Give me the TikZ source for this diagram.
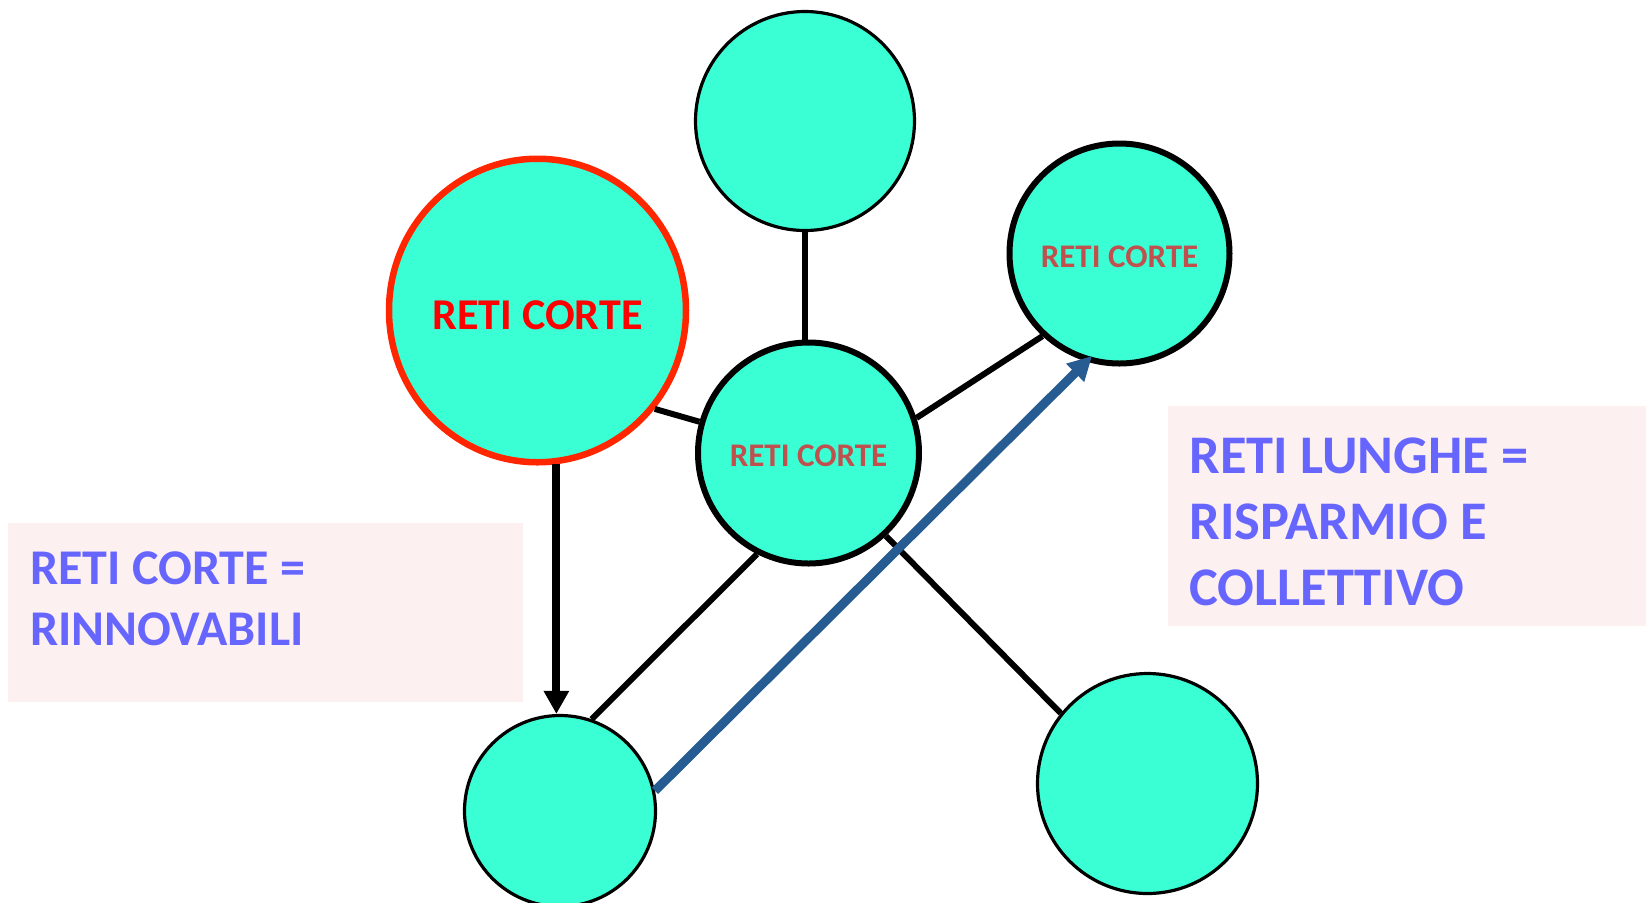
\documentclass[tikz,border=0pt]{standalone}
\usepackage{fontspec}
\setmainfont{Carlito}
\usetikzlibrary{positioning,arrows.meta,shapes.geometric}
\definecolor{aqua}{RGB}{58,255,213}
\definecolor{redline}{RGB}{255,38,0}
\definecolor{brick}{RGB}{192,80,77}
\definecolor{blush}{RGB}{253,240,240}
\definecolor{violet}{RGB}{102,102,255}
\definecolor{steel}{RGB}{38,92,145}
\newcommand{\lowered}[2]{\raisebox{-#1}[\height][\depth]{#2}}
\tikzset{
  rete/.style={circle,fill=aqua,draw=black,line width=1.6pt,inner sep=0pt},
  retebold/.style={rete,line width=3pt,text=brick,font=\bfseries\fontsize{16.5}{18}\selectfont},
  link/.style={line width=3pt},
  nota/.style={anchor=north west,align=left,inner sep=0pt,text=violet,font=\bfseries}
}
\begin{document}
\begin{tikzpicture}[x=0.5pt,y=-0.5pt]
        \useasboundingbox (0,0) rectangle (1646,902);
        % boxes
        \fill[blush] (8,523) rectangle (523,702);
        \fill[blush] (1168,406) rectangle (1646,626);
        \node[nota,font=\bfseries\fontsize{25}{30.5}\selectfont] (corte) at (30,551) {RETI CORTE =\\RINNOVABILI};
        \node[nota,font=\bfseries\fontsize{27.2}{33}\selectfont] (lunghe) at (1189,437) {RETI LUNGHE =\\RISPARMIO E\\COLLETTIVO};
        % circles
        \node[rete,minimum size=109.5pt] (top) at (805,121) {};
        \node[retebold,minimum size=110.5pt] (ctr) at (808.5,453) {\lowered{1.5pt}{RETI CORTE}};
        \node[retebold,minimum size=110pt] (tr) at (1119.5,253.5) {\lowered{1.5pt}{RETI CORTE}};
        \node[rete,minimum size=95.5pt] (bl) at (560,811) {};
        \node[rete,minimum size=110pt] (br) at (1147.5,783.5) {};
        \node[ellipse,fill=aqua,draw=redline,line width=3.25pt,inner sep=0pt,minimum width=146.75pt,minimum height=151.75pt,
              text=red,font=\bfseries\fontsize{22}{24}\selectfont] (red) at (537.5,310.5) {\lowered{2.6pt}{RETI CORTE}};
        % links
        \draw[link] (top.south) -- (top.south |- ctr.north);
        \draw[link] (red.-40) -- (ctr.164.5);
        \draw[link] (ctr.18) -- (tr.-133);
        \draw[link] (ctr.-117.7) -- (bl.71.6);
        \draw[link] (ctr.-47.5) -- (br.141.5);
        \draw[line width=4pt,-{Triangle[width=12pt,length=11.5pt]}] (red.-83) -- (red.-83 |- bl.north);
        \draw[steel,line width=4.5pt,-{Triangle[width=12pt,length=12pt]},shorten >=-4pt] (bl.12) -- (tr.-107);
      \end{tikzpicture}
\end{document}
